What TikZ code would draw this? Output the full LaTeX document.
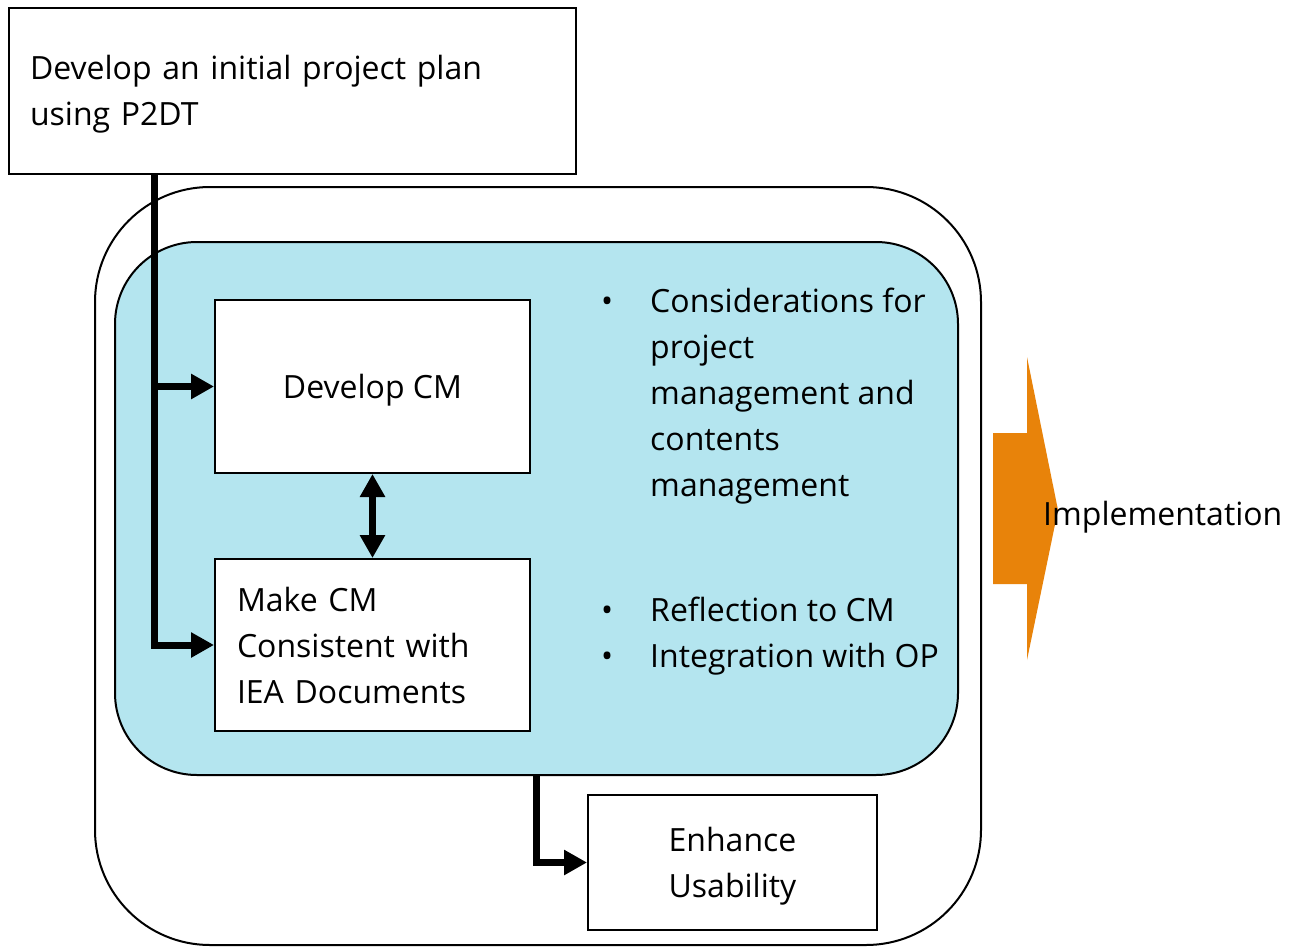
\documentclass[tikz,border=0pt]{standalone}
\usepackage{fontspec}
\setmainfont{Open Sans}
\usetikzlibrary{arrows.meta}
\usetikzlibrary{positioning}
\definecolor{cmblue}{RGB}{180,229,239}
\definecolor{implorange}{RGB}{232,131,10}

\begin{document}
\begin{tikzpicture}[x=1pt,y=-1pt,font=\fontsize{32}{46}\selectfont,
  box/.style={rectangle,draw=black,line width=2pt,fill=white,inner sep=0pt},
  flow/.style={line width=7pt,-{Triangle[length=23pt,width=24pt]}},
  dflow/.style={line width=7pt,{Triangle[length=23pt,width=24pt]}-{Triangle[length=23pt,width=24pt]}}]
\useasboundingbox (0,0) rectangle (1297,947);
\node[rectangle,rounded corners=115pt,draw=black,line width=2pt,minimum width=886pt,minimum height=758pt](outer) at (538,566){};
\node[rectangle,rounded corners=82pt,draw=black,line width=2pt,fill=cmblue,minimum width=843pt,minimum height=533pt](inner) at (536.5,508.5){};
\node[box,minimum width=567pt,minimum height=166pt,text width=525pt,align=left,text depth=48pt](plan) at (292.5,91){Develop an initial project plan\\using P2DT};
\node[box,minimum width=315pt,minimum height=173pt,text depth=0pt](dev) at (372.5,386.5){Develop CM};
\node[box,minimum width=315pt,minimum height=172pt,text width=271pt,align=left,below=84pt of dev](make){Make CM\\Consistent with\\IEA Documents};
\node[box,minimum width=289pt,minimum height=135pt,align=center,text depth=0pt](enh) at (732.5,862.5){Enhance\\Usability};
\node[anchor=north west,inner sep=0pt](consid) at (601,280){\begin{tabular}{@{}l@{\hspace{37pt}}l@{}}
\textbullet & Considerations for\\
 & project\\
 & management and\\
 & contents\\
 & management
\end{tabular}};
\node[anchor=north west,inner sep=0pt](refl) at (601,589){\begin{tabular}{@{}l@{\hspace{37pt}}l@{}}
\textbullet & Reflection to CM\\
\textbullet & Integration with OP
\end{tabular}};
% orange arrow to implementation
\fill[implorange] (993,433) -- (1027,433) -- (1027,357) -- (1058,510) -- (1027,660) -- (1027,584) -- (993,584) -- cycle;
\node[anchor=west,inner sep=0pt](impl) at (1043,517){Implementation};
\coordinate (drop) at ([xshift=146pt]plan.south west);
\coordinate (out) at ([xshift=422pt]inner.south west);
\draw[flow] (drop) |- (dev.west);
\draw[flow] (drop) |- (make.west);
\draw[dflow] (dev) -- (make);
\draw[flow] (out) |- (enh.west);
\end{tikzpicture}
\end{document}
